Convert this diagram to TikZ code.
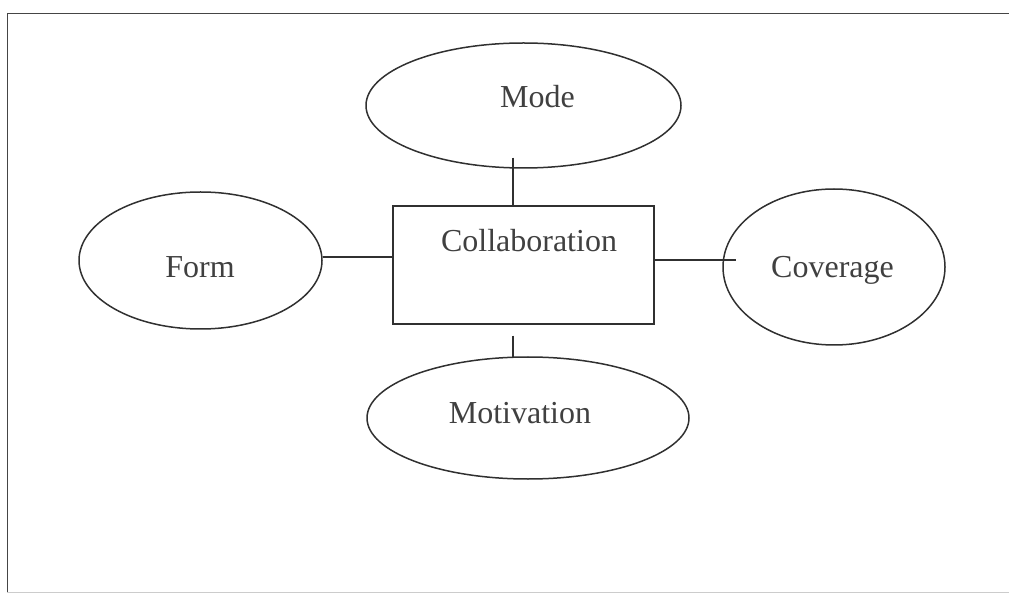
\documentclass[tikz,border=0pt]{standalone}
\usepackage{fontspec}
\setmainfont{Liberation Serif}
\usepackage{tikz}
\usetikzlibrary{calc,shapes.geometric}
\definecolor{inkgray}{HTML}{303030}
\definecolor{txtgray}{HTML}{404040}
\tikzset{
  oval/.style={draw=inkgray, line width=1.5pt, ellipse, inner sep=0pt},
  collabbox/.style={draw=inkgray, line width=1.5pt, rectangle, inner sep=0pt},
  word/.style={anchor=base, inner sep=0pt, text=txtgray, font=\fontsize{32}{38}\selectfont},
  link/.style={draw=inkgray, line width=1.5pt}
}

\begin{document}
\begin{tikzpicture}[x=1pt,y=-1pt]
\useasboundingbox (0,0) rectangle (1009,593);
% frame
\draw[draw=inkgray!90, line width=1.6pt] (1009,13.5) -- (7.3,13.5) -- (7.3,592);
\draw[draw=gray!40, line width=0.8pt] (7.3,592) -- (1009,592);
% shapes
\node[collabbox, minimum width=261pt, minimum height=118pt] (collab) at (523.5,265) {};
\node[oval, minimum width=315pt, minimum height=125pt] (mode) at (523.5,105.5) {};
\node[oval, minimum width=243pt, minimum height=137pt] (form) at (200.5,260.5) {};
\node[oval, minimum width=222pt, minimum height=156pt] (cover) at (834,267) {};
\node[oval, minimum width=322pt, minimum height=122pt] (motiv) at (528,418) {};
% texts
\node[word] (collabtxt) at (529,252) {Collaboration};
\node[word] (modetxt) at (537.5,108) {Mode};
\node[word] (formtxt) at (200,278) {Form};
\node[word] (covertxt) at (832.5,278) {Coverage};
\node[word] (motivtxt) at (520,423) {Motivation};
% links
\draw[link] (form.east |- 0,257) -- (collab.west |- 0,257);
\draw[link] (collab.east |- 0,260) -- ($(cover.west |- 0,260)+(14,0)$);
\draw[link] ($(mode.south -| 513,0)+(0,-11)$) -- (collab.north -| 513,0);
\draw[link] ($(collab.south -| 513,0)+(0,11)$) -- ($(motiv.north -| 513,0)+(0,2)$);
\end{tikzpicture}
\end{document}
